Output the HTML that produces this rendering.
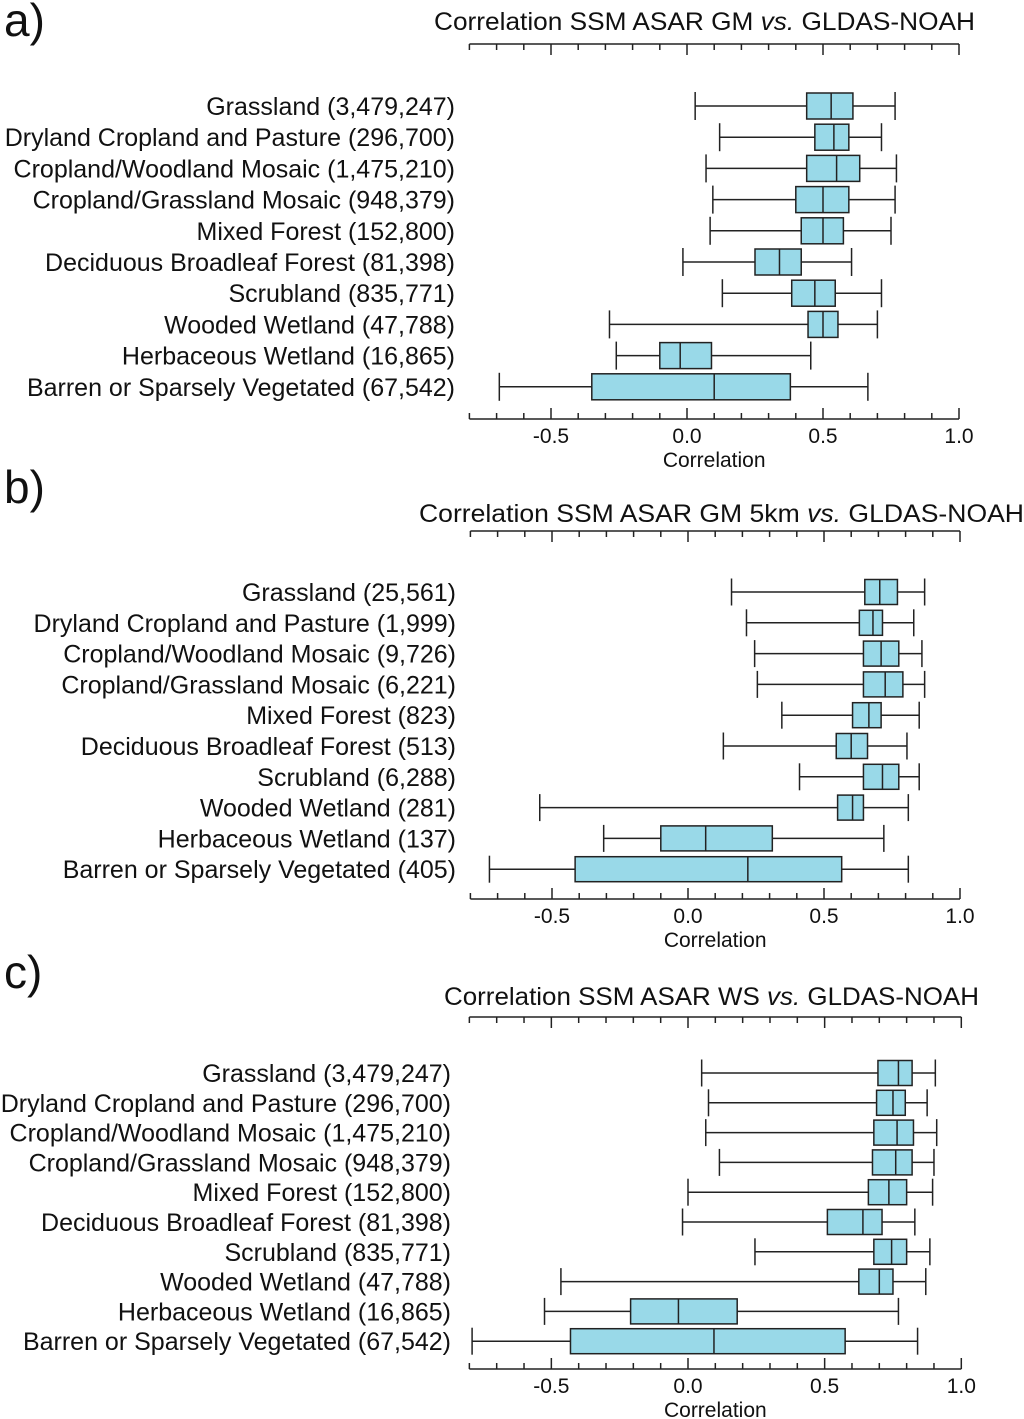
<!DOCTYPE html>
<html><head><meta charset="utf-8"><style>
html,body{margin:0;padding:0;background:#fff;}
svg{display:block;}
.lbl{font-family:"Liberation Sans",sans-serif;font-size:25px;fill:#111;}
.ttl{font-family:"Liberation Sans",sans-serif;font-size:25px;fill:#111;}
.tick{font-family:"Liberation Sans",sans-serif;font-size:21px;fill:#111;}
.let{font-family:"Liberation Sans",sans-serif;font-size:46px;fill:#111;}
</style></head><body>
<svg id="chart" width="1024" height="1419" xmlns="http://www.w3.org/2000/svg"></svg>
<script>
const categoriesA = ["Grassland (3,479,247)","Dryland Cropland and Pasture (296,700)","Cropland/Woodland Mosaic (1,475,210)","Cropland/Grassland Mosaic (948,379)","Mixed Forest (152,800)","Deciduous Broadleaf Forest (81,398)","Scrubland (835,771)","Wooded Wetland (47,788)","Herbaceous Wetland (16,865)","Barren or Sparsely Vegetated (67,542)"];
const categoriesB = ["Grassland (25,561)","Dryland Cropland and Pasture (1,999)","Cropland/Woodland Mosaic (9,726)","Cropland/Grassland Mosaic (6,221)","Mixed Forest (823)","Deciduous Broadleaf Forest (513)","Scrubland (6,288)","Wooded Wetland (281)","Herbaceous Wetland (137)","Barren or Sparsely Vegetated (405)"];
const categoriesC = categoriesA.slice();
// [min, q1, median, q3, max]
const statsA = [[0.03,0.44,0.53,0.61,0.765],[0.12,0.47,0.54,0.595,0.715],[0.07,0.44,0.55,0.635,0.77],[0.095,0.40,0.50,0.595,0.765],[0.085,0.42,0.50,0.575,0.75],[-0.015,0.25,0.34,0.42,0.605],[0.13,0.385,0.47,0.545,0.715],[-0.285,0.445,0.50,0.555,0.70],[-0.26,-0.10,-0.025,0.09,0.455],[-0.69,-0.35,0.10,0.38,0.665]];
const statsB = [[0.16,0.65,0.705,0.77,0.87],[0.215,0.63,0.68,0.715,0.83],[0.245,0.645,0.71,0.775,0.86],[0.255,0.645,0.725,0.79,0.87],[0.345,0.605,0.665,0.71,0.85],[0.13,0.545,0.60,0.66,0.805],[0.41,0.645,0.715,0.775,0.85],[-0.545,0.55,0.605,0.645,0.81],[-0.31,-0.10,0.065,0.31,0.72],[-0.73,-0.415,0.22,0.565,0.81]];
const statsC = [[0.05,0.695,0.77,0.82,0.905],[0.075,0.69,0.75,0.795,0.875],[0.065,0.68,0.765,0.825,0.91],[0.115,0.675,0.76,0.82,0.90],[0.0,0.66,0.735,0.80,0.895],[-0.02,0.51,0.64,0.71,0.83],[0.245,0.68,0.745,0.80,0.885],[-0.465,0.625,0.70,0.75,0.87],[-0.525,-0.21,-0.035,0.18,0.77],[-0.79,-0.43,0.095,0.575,0.84]];
const tickLabels = ["-0.5","0.0","0.5","1.0"];
const tickValues = [-0.5,0,0.5,1.0];

const svg=document.getElementById('chart');
const NS="http://www.w3.org/2000/svg";
function mk(tag,attrs,parent){const e=document.createElementNS(NS,tag);for(const k in attrs)e.setAttribute(k,attrs[k]);(parent||svg).appendChild(e);return e;}

const panels=[
 {letter:"a)",title:"Correlation SSM ASAR GM ",title2:" GLDAS-NOAH",tx:434,tw:541,ty:30,top:44,bottom:419,x0:687,k:272,row0:106,dy:31.2,bh:26,labR:455,cats:categoriesA,stats:statsA,ly:36},
 {letter:"b)",title:"Correlation SSM ASAR GM 5km ",title2:" GLDAS-NOAH",tx:419,tw:605,ty:522,top:531,bottom:899,x0:688,k:272,row0:592,dy:30.8,bh:25,labR:456,cats:categoriesB,stats:statsB,ly:503},
 {letter:"c)",title:"Correlation SSM ASAR WS ",title2:" GLDAS-NOAH",tx:444,tw:535,ty:1005,top:1017,bottom:1369,x0:688,k:273.3,row0:1073,dy:29.8,bh:25,labR:451,cats:categoriesC,stats:statsC,ly:988}
];
panels.forEach((p,pi)=>{
 const g=mk('g',{});
 
 
 const X=v=>p.x0+v*p.k;
 const L=mk('text',{x:4,y:p.ly,class:'let'},g);L.textContent=p.letter;
 
 const T=mk('text',{x:p.tx,y:p.ty,class:'ttl',textLength:p.tw,lengthAdjust:'spacingAndGlyphs'},g);
 
 const s1=mk('tspan',{},T);s1.textContent=p.title;
 const s2=mk('tspan',{'font-style':'italic'},T);s2.textContent='vs.';
 const s3=mk('tspan',{},T);s3.textContent=p.title2;
 const xl=X(-0.8),xr=X(1.0);
 const ax=mk('g',{stroke:'#222','stroke-width':1.5},g);
 
 mk('line',{x1:xl,x2:xr,y1:p.top,y2:p.top},ax);
 mk('line',{x1:xl,x2:xr,y1:p.bottom,y2:p.bottom},ax);
 for(let i=-8;i<=10;i++){const x=X(i/10);const len=(i%5===0)?11:6;
  mk('line',{x1:x,x2:x,y1:p.top,y2:p.top+len},ax);mk('line',{x1:x,x2:x,y1:p.bottom,y2:p.bottom-len},ax);}
 tickValues.forEach((v,i)=>{const t=mk('text',{x:X(v),y:p.bottom+24,'text-anchor':'middle',class:'tick'},g);t.textContent=tickLabels[i];
  });
 const at=mk('text',{x:X(0.1),y:p.bottom+48,'text-anchor':'middle',class:'tick'},g);at.textContent='Correlation';
 
 p.cats.forEach((c,i)=>{
  const y=p.row0+i*p.dy;
  const t=mk('text',{x:p.labR,y:y+9,'text-anchor':'end',class:'lbl'},g);t.textContent=c;
  
  const s=p.stats[i];const h=p.bh;
  const b=mk('g',{stroke:'#222','stroke-width':1.5},g);
  
  mk('line',{x1:X(s[0]),x2:X(s[1]),y1:y,y2:y},b);
  mk('line',{x1:X(s[3]),x2:X(s[4]),y1:y,y2:y},b);
  mk('line',{x1:X(s[0]),x2:X(s[0]),y1:y-h/2-1,y2:y+h/2+1},b);
  mk('line',{x1:X(s[4]),x2:X(s[4]),y1:y-h/2-1,y2:y+h/2+1},b);
  mk('rect',{x:X(s[1]),y:y-h/2,width:X(s[3])-X(s[1]),height:h,fill:'#99d9e8'},b);
  mk('line',{x1:X(s[2]),x2:X(s[2]),y1:y-h/2,y2:y+h/2},b);
 });
});
</script>
</body></html>
